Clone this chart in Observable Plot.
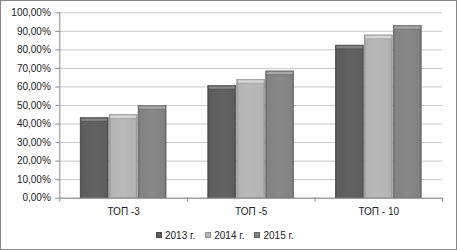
<!DOCTYPE html>
<html>
<head>
<meta charset="utf-8">
<script src="https://cdn.jsdelivr.net/npm/d3@7"></script>
<script src="https://cdn.jsdelivr.net/npm/@observablehq/plot@0.6"></script>
<style>
  html, body { margin: 0; padding: 0; background: #fff; }
  #wrap {
    box-sizing: border-box; width: 457px; height: 250px;
    border: 1px solid #868686; background: #fff; position: relative;
    font-family: "Liberation Sans", Arial, sans-serif; color: #222;
  }
  #chart svg { display: block; }
  #legend {
    display: flex; align-items: center; font-size: 10px; color: #222;
    margin-left: 155px; margin-top: 5px; height: 14px;
  }
  .item { display: flex; align-items: center; margin-right: 10px; }
  .sw { width: 6px; height: 6px; margin-right: 3px; box-sizing: border-box; }
</style>
</head>
<body>
<div id="wrap">
  <div id="chart"></div>
  <div id="legend"></div>
</div>
<script>
// ---- data ----
const categories = ["ТОП -3", "ТОП -5", "ТОП - 10"];
const years = ["2013 г.", "2014 г.", "2015 г."];
const values2013 = [43.2, 60.5, 82.3];
const values2014 = [44.8, 63.8, 87.8];
const values2015 = [49.7, 68.4, 92.9];
const yTicks = [0, 10, 20, 30, 40, 50, 60, 70, 80, 90, 100];

// ---- styles ----
const baseColors = ["#5e5e5e", "#b3b3b3", "#828282"];
const lightColors = ["#858585", "#d8d8d8", "#a6a6a6"];
const darkColors = ["#474747", "#929292", "#646464"];
const GROUP_OFFSET = 0.164, BAR_W = 0.219, GAP = 0.008;

const series = [values2013, values2014, values2015];
const rows = [];
series.forEach((vals, yi) => vals.forEach((v, ci) => {
  const x1 = ci + GROUP_OFFSET + yi * (BAR_W + GAP);
  rows.push({year: years[yi], yi, cat: categories[ci], ci, value: v, x1, x2: x1 + BAR_W});
}));

function defsMark() {
  const defs = d3.create("svg:defs");
  baseColors.forEach((c, i) => {
    const g = defs.append("linearGradient").attr("id", "g" + i)
      .attr("x1", 0).attr("x2", 1).attr("y1", 0).attr("y2", 0);
    [[0, darkColors[i]], [0.07, c], [0.5, d3.color(c).brighter(0.1).formatHex()], [0.93, c], [1, darkColors[i]]]
      .forEach(([o, col]) => g.append("stop").attr("offset", o).attr("stop-color", col));
  });
  return defs.node();
}

const barMarks = years.flatMap((yr, yi) => {
  const d = rows.filter(r => r.yi === yi);
  return [
    Plot.rectY(d, {x1: "x1", x2: "x2", y1: 0, y2: "value", fill: `url(#g${yi})`, stroke: darkColors[yi], strokeWidth: 0.7}),
    Plot.ruleY(d, {y: "value", x1: "x1", x2: "x2", stroke: lightColors[yi], strokeWidth: 2.2, dy: 1.6, insetLeft: 1, insetRight: 1}),
    Plot.ruleY(d, {y: "value", x1: "x1", x2: "x2", stroke: darkColors[yi], strokeWidth: 0.7, strokeOpacity: 0.35, dy: 3.4, insetLeft: 1.5, insetRight: 1.5})
  ];
});

const chart = Plot.plot({
  width: 455,
  height: 222,
  marginLeft: 58.3,
  marginRight: 14,
  marginTop: 11.3,
  marginBottom: 25.3,
  style: {fontFamily: "'Liberation Sans', Arial, sans-serif", fontSize: "10px", color: "#222", background: "#fff"},
  x: {domain: [0, categories.length], axis: null},
  y: {domain: [0, 100], axis: null},
  marks: [
    defsMark,
    Plot.gridY(yTicks, {stroke: "#c8c8c8", strokeOpacity: 1, strokeWidth: 1}),
    Plot.axisY(yTicks, {tickSize: 4, tickPadding: 5, stroke: "#888", fill: "#222", label: null,
      tickFormat: d => d3.format(".2f")(d).replace(".", ",") + "%", fontSize: 10}),
    Plot.ruleX([0], {stroke: "#888"}),
    ...barMarks,
    Plot.ruleY([0], {stroke: "#888"}),
    Plot.ruleX(d3.range(categories.length + 1), {y1: 0, y2: 0, insetBottom: -4, stroke: "#888"}),
    Plot.axisX(categories.map((c, i) => i + 0.5), {tickSize: 0, tickPadding: 10, label: null,
      tickFormat: d => categories[Math.floor(d)], fontSize: 10, fill: "#222"})
  ]
});
document.getElementById("chart").append(chart);

const legend = document.getElementById("legend");
years.forEach((yr, i) => {
  const it = document.createElement("div");
  it.className = "item";
  const sw = document.createElement("div");
  sw.className = "sw";
  sw.style.background = baseColors[i];
  sw.style.border = "1px solid " + darkColors[i];
  const t = document.createElement("span");
  t.textContent = yr;
  it.append(sw, t);
  legend.append(it);
});
</script>
</body>
</html>
